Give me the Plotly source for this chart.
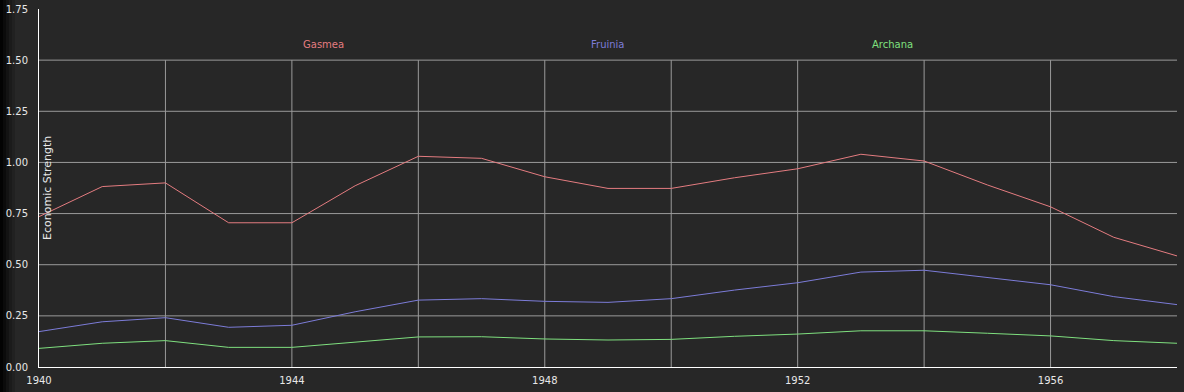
import plotly.graph_objects as go

years = list(range(1940, 1959))
gasmea = [0.735, 0.882, 0.900, 0.705, 0.705, 0.886, 1.030, 1.020, 0.930, 0.873, 0.873,
          0.925, 0.969, 1.040, 1.007, 0.890, 0.783, 0.634, 0.543]
fruinia = [0.173, 0.221, 0.241, 0.194, 0.204, 0.270, 0.327, 0.334, 0.321, 0.316, 0.334,
           0.376, 0.412, 0.464, 0.473, 0.438, 0.402, 0.344, 0.305]
archana = [0.091, 0.116, 0.129, 0.096, 0.096, 0.121, 0.147, 0.148, 0.137, 0.132, 0.135,
           0.150, 0.161, 0.177, 0.177, 0.165, 0.152, 0.129, 0.116]

series_names = ["Gasmea", "Fruinia", "Archana"]
series_colors = ["#e47c80", "#7c7cd8", "#7fe07f"]
series_values = [gasmea, fruinia, archana]

x_tick_vals = [1940, 1944, 1948, 1952, 1956]
x_grid_vals = [1942, 1944, 1946, 1948, 1950, 1952, 1954, 1956]
y_tick_vals = [0.0, 0.25, 0.5, 0.75, 1.0, 1.25, 1.5, 1.75]
y_grid_vals = [0.25, 0.5, 0.75, 1.0, 1.25, 1.5]
y_title = "Economic Strength"

BG = "#272727"
GRID = "#9a9a9a"
FONT = "DejaVu Sans"

fig = go.Figure()
for name, vals, col in zip(series_names, series_values, series_colors):
    fig.add_trace(go.Scatter(x=years, y=vals, mode="lines", name=name,
                             line=dict(color=col, width=1), showlegend=False))

shapes = []
for gx in x_grid_vals:
    shapes.append(dict(type="line", xref="x", yref="y", x0=gx, x1=gx, y0=0, y1=max(y_grid_vals),
                       line=dict(color=GRID, width=1), layer="below"))
for gy in y_grid_vals:
    shapes.append(dict(type="line", xref="paper", yref="y", x0=0, x1=1, y0=gy, y1=gy,
                       line=dict(color=GRID, width=1), layer="below"))
# dark left edge band
for i, op in enumerate([0.9, 0.7, 0.5, 0.3, 0.15]):
    shapes.append(dict(type="rect", xref="paper", yref="paper",
                       x0=(-39 + i * 3) / 1138, x1=(-36 + i * 3) / 1138,
                       y0=-25 / 358, y1=1 + 9 / 358, fillcolor="black", opacity=op,
                       line=dict(width=0), layer="below"))

annotations = []
for i, (name, col) in enumerate(zip(series_names, series_colors)):
    annotations.append(dict(text=name, xref="paper", yref="paper", x=0.25 * (i + 1), y=0.902,
                            showarrow=False, font=dict(family=FONT, size=10, color=col),
                            xanchor="center", yanchor="middle"))
annotations.append(dict(text=y_title, xref="paper", yref="paper", x=8 / 1138, y=0.5,
                        textangle=-90, showarrow=False, xanchor="center", yanchor="middle",
                        font=dict(family=FONT, size=11, color="#e8e8e8")))

fig.update_layout(
    width=1184, height=392,
    margin=dict(l=39, r=7, t=9, b=25),
    paper_bgcolor=BG, plot_bgcolor=BG,
    font=dict(family=FONT, size=10, color="#e8e8e8"),
    shapes=shapes, annotations=annotations,
    xaxis=dict(range=[1940, 1958], tickvals=x_tick_vals, ticktext=[str(v) for v in x_tick_vals],
               showgrid=False, zeroline=False, showline=True, linecolor="#ffffff", linewidth=1,
               ticks="outside", ticklen=4, tickcolor="rgba(0,0,0,0)", automargin=False,
               tickfont=dict(family=FONT, size=10, color="#e8e8e8")),
    yaxis=dict(range=[0, 1.75], tickvals=y_tick_vals, ticktext=[f"{v:.2f}" for v in y_tick_vals],
               showgrid=False, zeroline=False, showline=True, linecolor="#ffffff", linewidth=1,
               ticks="outside", ticklen=8, tickcolor="rgba(0,0,0,0)", automargin=False,
               tickfont=dict(family=FONT, size=10, color="#e8e8e8")),
)

fig.write_html("out.html")
